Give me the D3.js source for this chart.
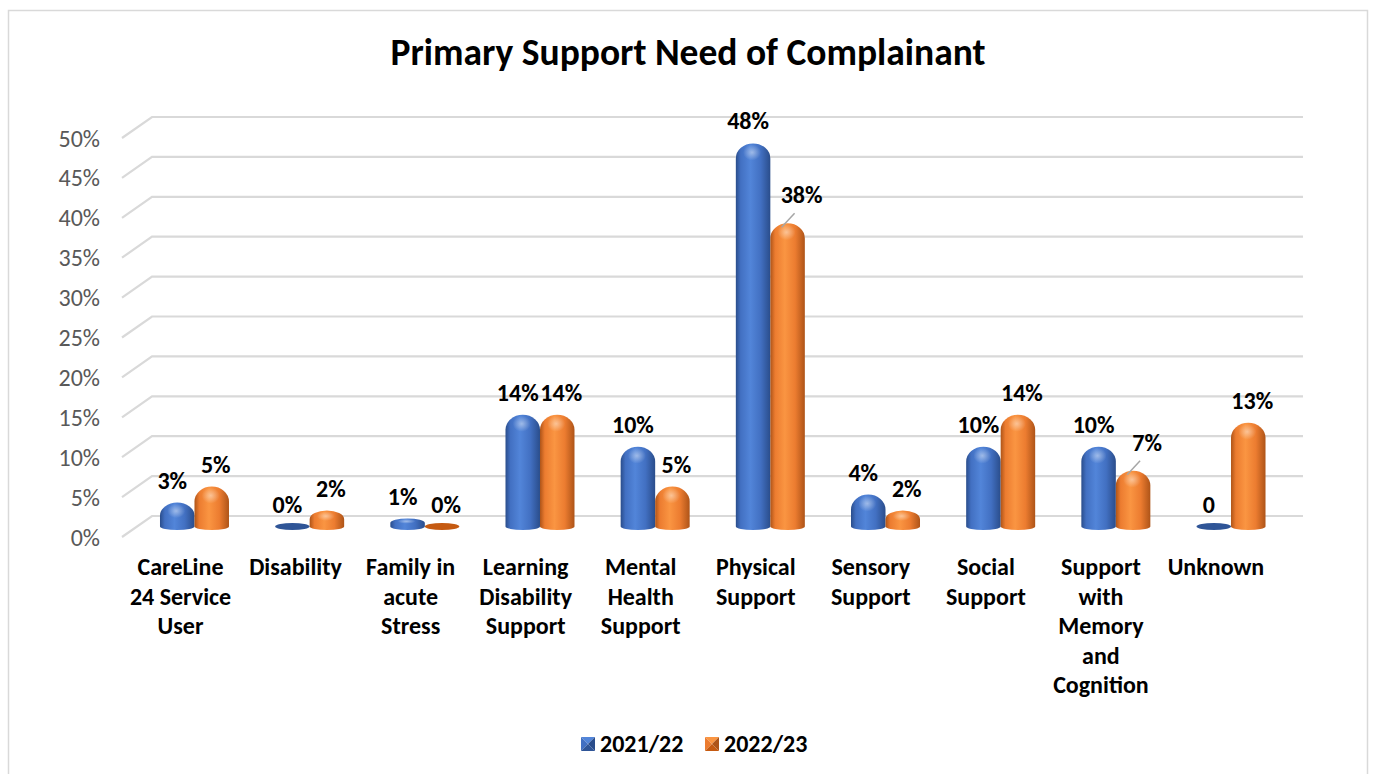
<!DOCTYPE html>
<html>
<head>
<meta charset="utf-8">
<script src="https://cdn.jsdelivr.net/npm/d3@7"></script>
<style>
  html, body { margin: 0; padding: 0; background: #fff; }
  svg { display: block; }
  text { font-family: Calibri, Carlito, "Open Sans", Lato, sans-serif; }
</style>
</head>
<body>
<svg id="chart" width="1375" height="774"></svg>
<script>
// ---- data ----
const chartTitle = "Primary Support Need of Complainant";
const categories = [
  "CareLine\n24 Service\nUser",
  "Disability",
  "Family in\nacute\nStress",
  "Learning\nDisability\nSupport",
  "Mental\nHealth\nSupport",
  "Physical\nSupport",
  "Sensory\nSupport",
  "Social\nSupport",
  "Support\nwith\nMemory\nand\nCognition",
  "Unknown"
];
const seriesNames = ["2021/22", "2022/23"];
const values2122 = [3, 0, 1, 14, 10, 48, 4, 10, 10, 0];
const values2223 = [5, 2, 0, 14, 5, 38, 2, 14, 7, 13];
const labels2122 = ["3%", "0%", "1%", "14%", "10%", "48%", "4%", "10%", "10%", "0"];
const labels2223 = ["5%", "2%", "0%", "14%", "5%", "38%", "2%", "14%", "7%", "13%"];
const yTicks = [0, 5, 10, 15, 20, 25, 30, 35, 40, 45, 50];

// labels pushed up-right with a leader line: [seriesIndex, categoryIndex]
const leaderLabels = [[1, 5], [1, 8]];

const seriesValues = [values2122, values2223];
const seriesLabels = [labels2122, labels2223];

// ---- layout ----
const svg = d3.select("#chart");
const labelSize = 24;

const palette = {
  "2021/22": { dark: "#2A4D8B", mid: "#4270C2", light: "#5285D9", flat: "#2F5597" },
  "2022/23": { dark: "#AE5418", mid: "#EC7C30", light: "#FA9542", flat: "#C55A11" }
};

// back wall (gridlines), bar plane and front edge (tick labels)
const yBack  = d3.scaleLinear().domain([0, 50]).range([516, 117]);
const yBar   = d3.scaleLinear().domain([0, 50]).range([526.5, 127.5]);
const yFront = d3.scaleLinear().domain([0, 50]).range([537, 138]);

const xBar = d3.scaleBand().domain(d3.range(categories.length)).range([136.9, 1288.6]).padding(0);
const xLabel = d3.scaleBand().domain(d3.range(categories.length)).range([123, 1273.5]).padding(0);
const barW = 34.5;
const xSeries = d3.scaleBand().domain(seriesNames).range([-barW, barW]).padding(0);

// ---- frame ----
svg.append("rect")
  .attr("x", 8.5).attr("y", 10.5).attr("width", 1359).attr("height", 780)
  .attr("fill", "#fff").attr("stroke", "#D9D9D9").attr("stroke-width", 1.5);

// ---- title ----
svg.append("text")
  .attr("x", 688).attr("y", 65)
  .attr("text-anchor", "middle")
  .attr("font-size", 37.5).attr("font-weight", "bold").attr("fill", "#000")
  .text(chartTitle);

// ---- gradients ----
const defs = svg.append("defs");
seriesNames.forEach((s, i) => {
  const p = palette[s];
  const g = defs.append("linearGradient").attr("id", "cyl" + i)
    .attr("x1", "0%").attr("x2", "100%").attr("y1", "0%").attr("y2", "0%");
  [[0, p.dark], [0.14, p.mid], [0.42, p.light], [0.72, p.mid], [1, p.dark]]
    .forEach(([o, c]) => g.append("stop").attr("offset", o).attr("stop-color", c));
  const h = defs.append("radialGradient").attr("id", "hi" + i);
  h.append("stop").attr("offset", 0).attr("stop-color", "#fff").attr("stop-opacity", 0.45);
  h.append("stop").attr("offset", 1).attr("stop-color", "#fff").attr("stop-opacity", 0);
});

// ---- gridlines: diagonal floor edge + back wall ----
const grid = svg.append("g").attr("stroke", "#D9D9D9").attr("stroke-width", 2.2).attr("fill", "none");
yTicks.forEach(t => {
  grid.append("path")
    .attr("d", `M122,${yFront(t)} L152,${yBack(t)} L1303,${yBack(t)}`);
});

// ---- y tick labels ----
svg.append("g").selectAll("text").data(yTicks).join("text")
  .attr("x", 100).attr("y", d => yFront(d) + 8.5)
  .attr("text-anchor", "end")
  .attr("font-size", labelSize).attr("fill", "#595959")
  .text(d => d + "%");

// ---- cylinders ----
function cylinderPath(x0, x1, yb, yt) {
  const rx = (x1 - x0) / 2;
  const h = yb - yt;
  const ry = Math.min(15, h * 0.55);
  const eb = 3.5;
  return `M${x0},${yt + ry} A${rx},${ry} 0 0 1 ${x1},${yt + ry} L${x1},${yb} ` +
         `A${rx},${eb} 0 0 1 ${x0},${yb} Z`;
}

const bars = svg.append("g");
categories.forEach((c, ci) => {
  seriesNames.forEach((s, si) => {
    const v = seriesValues[si][ci];
    const cx = xBar(ci) + xBar.bandwidth() / 2 + xSeries(s) + xSeries.bandwidth() / 2;
    const x0 = cx - barW / 2, x1 = cx + barW / 2;
    const yb = yBar(0), yt = yBar(v);
    if (yb - yt < 1) {
      bars.append("ellipse")
        .attr("cx", cx).attr("cy", yb).attr("rx", barW / 2).attr("ry", 3.5)
        .attr("fill", palette[s].flat);
    } else {
      bars.append("path")
        .attr("d", cylinderPath(x0, x1, yb, yt))
        .attr("fill", `url(#cyl${si})`);
      bars.append("ellipse")
        .attr("cx", cx - 1).attr("cy", yt + Math.min(9, (yb - yt) * 0.35))
        .attr("rx", 9).attr("ry", Math.min(8, (yb - yt) * 0.3))
        .attr("fill", `url(#hi${si})`);
    }
  });
});

// ---- value labels ----
const valueLabels = svg.append("g");
categories.forEach((c, ci) => {
  seriesNames.forEach((s, si) => {
    const v = seriesValues[si][ci];
    const cx = xBar(ci) + xBar.bandwidth() / 2 + xSeries(s) + xSeries.bandwidth() / 2;
    let lx = cx + (si === 0 ? -5 : 4);
    let ly = yBar(v) - 22;
    const moved = leaderLabels.some(([a, b]) => a === si && b === ci);
    if (moved) {
      const top = yBar(v);
      valueLabels.append("line")
        .attr("x1", cx - 6).attr("y1", top + 4)
        .attr("x2", cx + 7).attr("y2", top - 10)
        .attr("stroke", "#A6A6A6").attr("stroke-width", 1.5);
      lx = cx + 14;
      ly = top - 28;
    }
    valueLabels.append("text")
      .attr("x", lx).attr("y", ly + 8)
      .attr("text-anchor", "middle")
      .attr("font-size", labelSize).attr("font-weight", "bold").attr("fill", "#000")
      .text(seriesLabels[si][ci]);
  });
});

// ---- category labels ----
const catG = svg.append("g");
categories.forEach((c, ci) => {
  const cx = xLabel(ci) + xLabel.bandwidth() / 2;
  const t = catG.append("text")
    .attr("x", cx)
    .attr("y", 575)
    .attr("text-anchor", "middle")
    .attr("font-size", labelSize).attr("font-weight", "bold").attr("fill", "#000");
  c.split("\n").forEach((line, li) => {
    t.append("tspan")
      .attr("x", cx)
      .attr("dy", li === 0 ? 0 : 29.5)
      .text(line);
  });
});

// ---- legend ----
const legendX = [581, 705];
const legend = svg.append("g");
seriesNames.forEach((s, i) => {
  const p = palette[s];
  const x = legendX[i], y = 737, sz = 14;
  const cxm = x + sz / 2, cym = y + sz / 2;
  const tri = (pts, col) => legend.append("polygon").attr("points", pts.map(d => d.join(",")).join(" ")).attr("fill", col);
  tri([[x, y], [x + sz, y], [cxm, cym]], p.light);
  tri([[x, y], [x, y + sz], [cxm, cym]], p.mid);
  tri([[x + sz, y], [x + sz, y + sz], [cxm, cym]], p.dark);
  tri([[x, y + sz], [x + sz, y + sz], [cxm, cym]], p.flat);
  legend.append("text")
    .attr("x", x + 19).attr("y", cym + 8)
    .attr("font-size", labelSize).attr("font-weight", "bold").attr("fill", "#000")
    .text(s);
});
</script>
</body>
</html>
